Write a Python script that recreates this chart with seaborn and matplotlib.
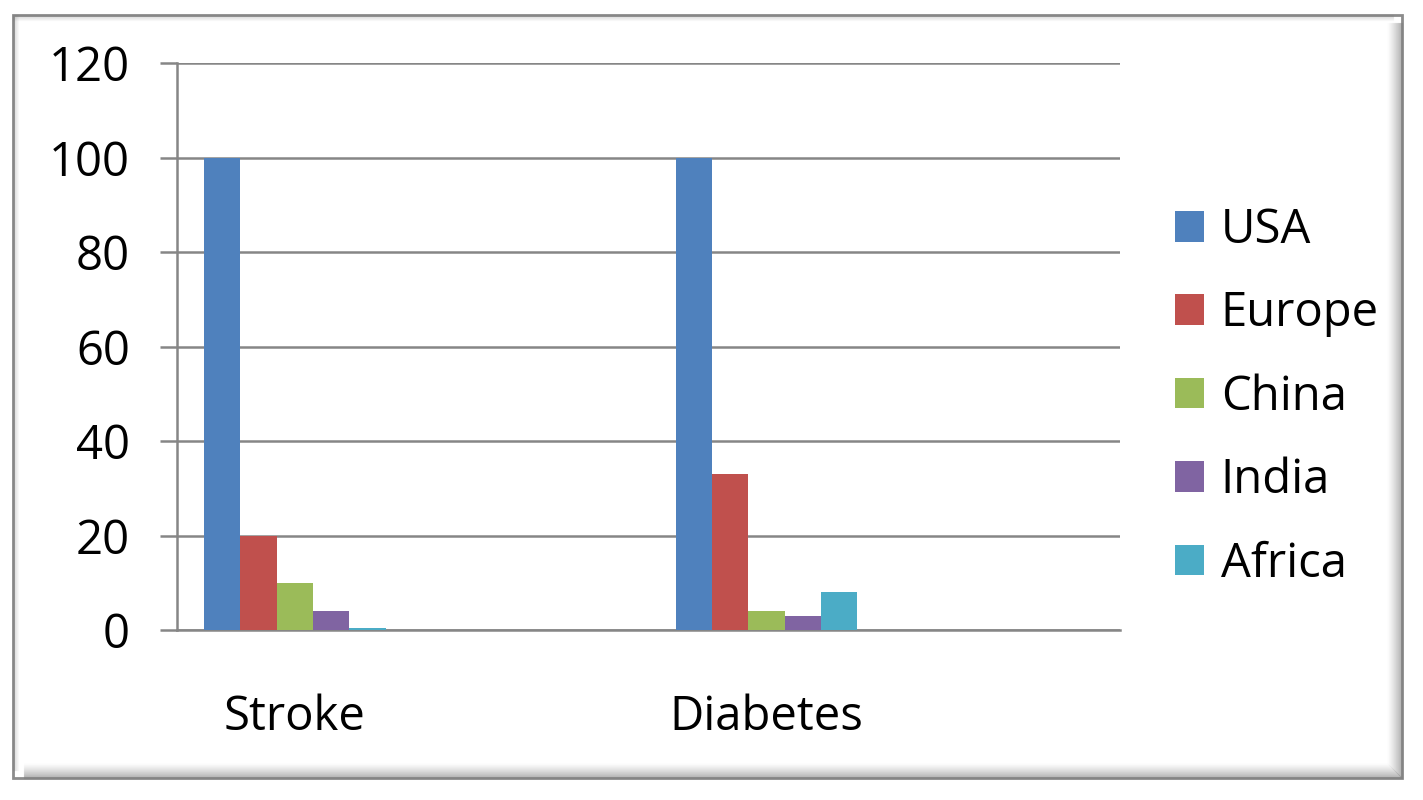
import pandas as pd
import matplotlib
matplotlib.use("Agg")
import matplotlib.pyplot as plt
import seaborn as sns
from matplotlib.patches import Rectangle, Patch
from matplotlib.lines import Line2D

# data
diseases = ["Stroke", "Diabetes"]
regions = ["USA", "Europe", "China", "India", "Africa"]
stroke = [100, 20, 10, 4, 0.5]
diabetes = [100, 33, 4, 3, 8]
slots = ["Stroke", "gap1", "Diabetes", "gap2"]
slot_labels = ["Stroke", "", "Diabetes", ""]
yticks = [0, 20, 40, 60, 80, 100, 120]
colors = ["#4F81BD", "#C0504D", "#9BBB59", "#8064A2", "#4BACC6"]

df = pd.DataFrame({
    "disease": ["Stroke"] * 5 + ["Diabetes"] * 5,
    "region": regions * 2,
    "value": stroke + diabetes,
})

sns.set_style("white")
plt.rcParams["font.family"] = ["Open Sans", "DejaVu Sans"]
plt.rcParams["text.color"] = "black"
plt.rcParams["xtick.color"] = "black"
plt.rcParams["ytick.color"] = "black"

fig = plt.figure(figsize=(14.23, 8), dpi=100)
ax = fig.add_axes([177 / 1423, 1 - 630 / 800, (1120 - 177) / 1423, (630 - 63) / 800])

sns.barplot(data=df, x="disease", y="value", hue="region", order=slots,
            hue_order=regions, palette=colors, width=0.77, saturation=1,
            edgecolor="none", linewidth=0, legend=False, ax=ax, zorder=3)

grid = "#868686"
ax.set_xlim(-0.5, 3.5)
ax.set_ylim(0, 120)
ax.set_yticks(yticks)
ax.set_yticklabels([str(v) for v in yticks], fontsize=34)
ax.yaxis.grid(True, color=grid, linewidth=1.8, zorder=0)
ax.set_axisbelow(True)
ax.set_xticks(range(len(slots)))
ax.set_xticklabels(slot_labels, fontsize=34)
ax.set_xticks([-0.5, 0.5, 1.5, 2.5, 3.5], minor=True)
ax.tick_params(axis="x", which="major", length=0, pad=46, labelcolor="black")
ax.tick_params(axis="x", which="minor", length=11, width=1.8, color=grid, direction="out")
ax.tick_params(axis="y", length=12, width=1.8, color=grid, direction="out", pad=22,
               left=True, labelcolor="black")
ax.set_xlabel("")
ax.set_ylabel("")
for side in ["top", "right"]:
    ax.spines[side].set_visible(False)
for side in ["left", "bottom"]:
    ax.spines[side].set_color(grid)
    ax.spines[side].set_linewidth(1.8)

handles = [Patch(facecolor=c, edgecolor="none") for c in colors]
fig.legend(handles, regions, loc="center left", bbox_to_anchor=(1175 / 1423, 1 - 397 / 800),
           frameon=False, fontsize=34, handlelength=0.62, handleheight=0.62,
           handletextpad=0.35, labelspacing=0.76, borderpad=0, borderaxespad=0)

# outer frame with soft shadow on right and bottom
x0, y0, x1, y1 = 13 / 1423, 1 - 778 / 800, 1402 / 1423, 1 - 15 / 800
for i in range(16):
    a = 0.55 * (1 - i / 16) ** 1.5
    dx = i / 1423
    dy = i / 800
    fig.add_artist(Line2D([x1 - dx, x1 - dx], [y0 + dy, y1 - 0.01], transform=fig.transFigure,
                          color="#808080", alpha=a, linewidth=1))
    fig.add_artist(Line2D([x0 + 0.008, x1 - dx], [y0 + dy, y0 + dy], transform=fig.transFigure,
                          color="#808080", alpha=a, linewidth=1))
for i in range(6):
    a = 0.25 * (1 - i / 6)
    fig.add_artist(Line2D([x0 + i / 1423] * 2, [y0 + 0.01, y1], transform=fig.transFigure,
                          color="#808080", alpha=a, linewidth=1))
    fig.add_artist(Line2D([x0, x1 - 0.006], [y1 - i / 800] * 2, transform=fig.transFigure,
                          color="#808080", alpha=a, linewidth=1))
fig.add_artist(Rectangle((x0, y0), x1 - x0, y1 - y0, transform=fig.transFigure,
                         fill=False, edgecolor="#8c8c8c", linewidth=2))

fig.savefig("out.png", dpi=100)
